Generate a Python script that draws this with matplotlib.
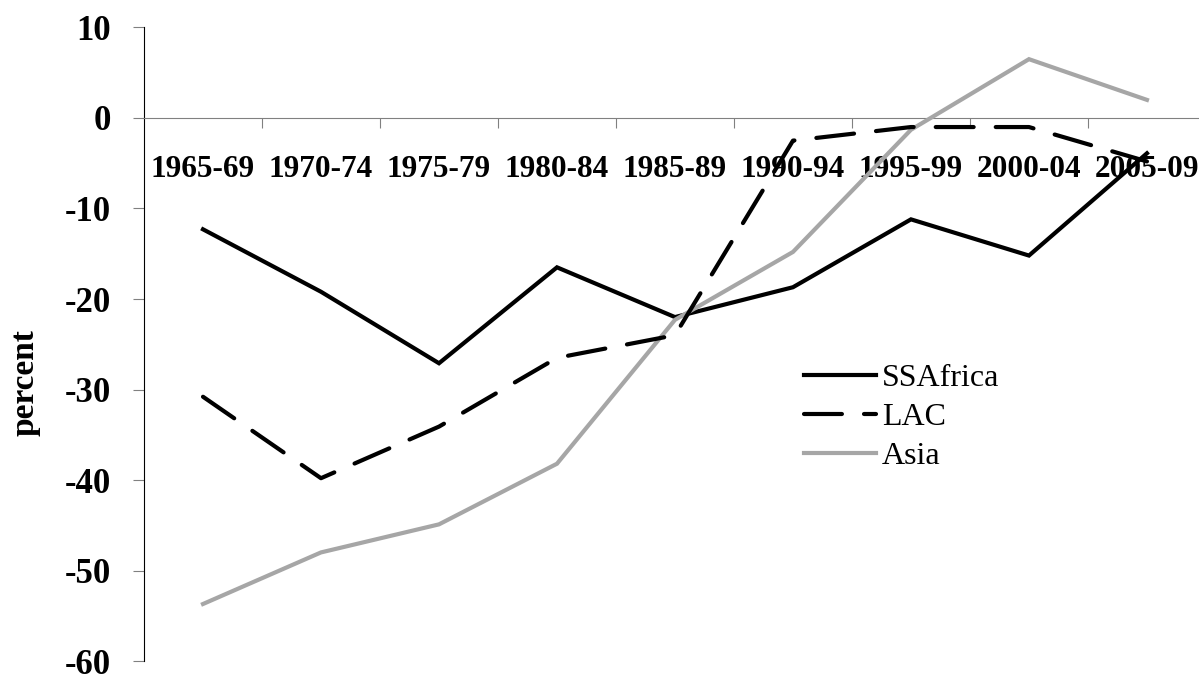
import numpy as np
import matplotlib
matplotlib.use("Agg")
import matplotlib.pyplot as plt

# periods and series (percent)
periods = ['1965-69', '1970-74', '1975-79', '1980-84', '1985-89',
           '1990-94', '1995-99', '2000-04', '2005-09']
ssafrica = [-12.3, -19.2, -27.1, -16.5, -22.0, -18.7, -11.2, -15.2, -3.9]
lac = [-30.8, -39.8, -34.1, -26.5, -24.0, -2.5, -1.0, -1.0, -4.8]
asia = [-53.7, -48.0, -44.9, -38.2, -22.3, -14.8, -1.3, 6.5, 2.0]
yticks = [10, 0, -10, -20, -30, -40, -50, -60]

plt.rcParams['font.family'] = ['Liberation Serif', 'DejaVu Serif']

fig = plt.figure(figsize=(11.99, 6.77), dpi=100)
ax = fig.add_axes([0.1201, 0.0236, 0.8857, 0.9358])

x = np.arange(len(periods))
l1, = ax.plot(x, ssafrica, color='black', lw=3, label='SSAfrica', zorder=3,
              solid_joinstyle='miter')
l3, = ax.plot(x, asia, color='#a6a6a6', lw=3, label='Asia', zorder=4,
              solid_joinstyle='miter')
l2, = ax.plot(x, lac, color='black', lw=3, label='LAC', zorder=5,
              linestyle=(0, (9.1, 5.3)), dash_capstyle='round')

ax.set_xlim(-0.5, len(periods) - 0.5)
ax.set_ylim(-60, 10)
ax.set_axisbelow(True)

# spines
for s in ['top', 'right']:
    ax.spines[s].set_visible(False)
ax.spines['bottom'].set_position(('data', 0))
ax.spines['bottom'].set_color('#808080')
ax.spines['left'].set_color('black')

# y ticks
ax.set_yticks(yticks)
ax.set_yticklabels([str(v) for v in yticks], fontsize=25, fontweight='bold')
ax.tick_params(axis='y', direction='out', length=8, color='#808080', pad=16)

# x ticks: marks at boundaries, labels at centres
ax.set_xticks(np.arange(0.5, len(periods) - 0.5, 1.0))
ax.set_xticklabels([])
ax.set_xticks(x, minor=True)
ax.set_xticklabels(periods, minor=True, fontsize=22.5, fontweight='bold')
ax.tick_params(axis='x', which='major', direction='out', length=7, color='#808080')
ax.tick_params(axis='x', which='minor', length=0, pad=27)

ylab = ax.set_ylabel('percent', fontsize=24, fontweight='bold')
ylab.set_va('center')
ax.yaxis.set_label_coords(-0.112, 0.439)

ax.legend(handles=[l1, l2, l3], loc='upper left', bbox_to_anchor=(0.6094, 0.49),
          frameon=False, fontsize=23, handlelength=2.25, handletextpad=0.2,
          labelspacing=0.31, borderaxespad=0)

fig.savefig('out.png', dpi=100)
